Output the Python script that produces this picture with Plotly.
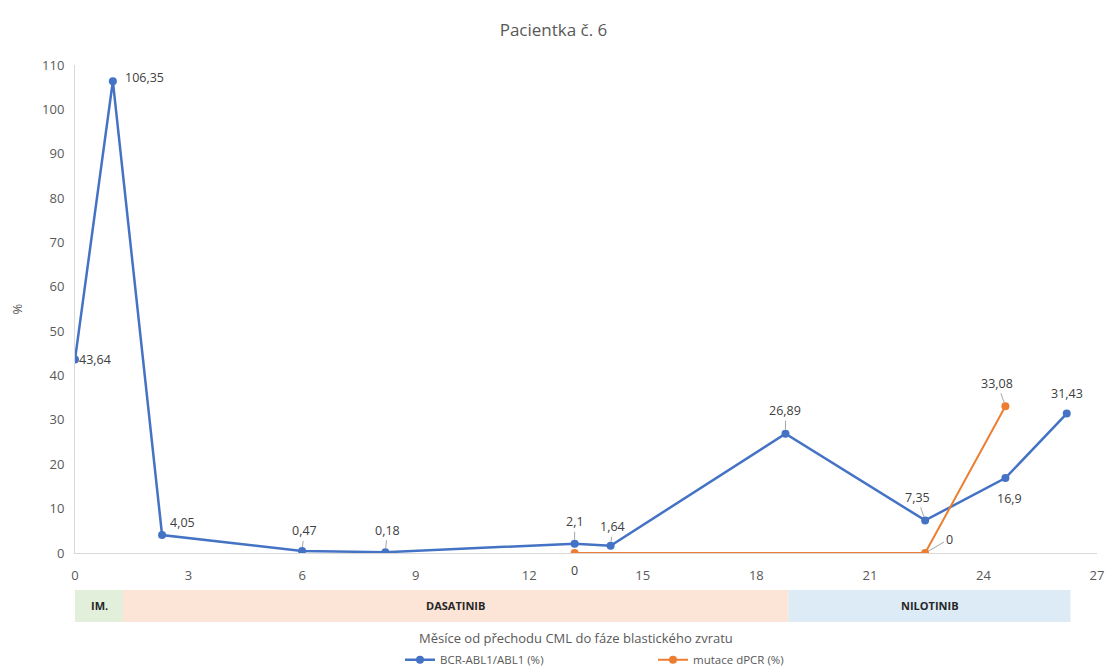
import plotly.graph_objects as go

# BCR-ABL1/ABL1 (%) over months since blast crisis
bcr_months = [0, 1.0, 2.3, 6.0, 8.2, 13.2, 14.15, 18.77, 22.46, 24.58, 26.2]
bcr_values = [43.64, 106.35, 4.05, 0.47, 0.18, 2.1, 1.64, 26.89, 7.35, 16.9, 31.43]
bcr_labels = ["43,64", "106,35", "4,05", "0,47", "0,18", "2,1", "1,64", "26,89", "7,35", "16,9", "31,43"]

# mutation dPCR (%)
mut_months = [13.2, 22.46, 24.58]
mut_values = [0, 0, 33.08]
mut_labels = ["0", "0", "33,08"]

# treatment phases (start, end, name)
phase_start = [0, 1.27, 18.85]
phase_end = [1.27, 18.85, 26.3]
phase_names = ["IM.", "DASATINIB", "NILOTINIB"]
phase_colors = ["#e2efda", "#fce4d6", "#ddebf7"]

x_ticks = list(range(0, 28, 3))
y_ticks = list(range(0, 111, 10))

BLUE = "#4472c4"
ORANGE = "#ed7d31"
TXT = "#595959"
FONT = "Open Sans, sans-serif"

fig = go.Figure()
fig.add_trace(go.Scatter(
    x=bcr_months, y=bcr_values, mode="lines+markers", name="BCR-ABL1/ABL1 (%)",
    line=dict(color=BLUE, width=2.5), marker=dict(color=BLUE, size=8),
))
fig.add_trace(go.Scatter(
    x=mut_months, y=mut_values, mode="lines+markers", name="mutace dPCR (%)",
    line=dict(color=ORANGE, width=2), marker=dict(color=ORANGE, size=8),
))

# data-label offsets in pixels (dx, dy, leader), positive dy = up
bcr_offsets = [(20, 0, False), (32, 4, False), (20, 13, False), (2, 20, True), (2, 22, True),
               (0, 22, True), (2, 19, True), (0, 23, True), (-8, 23, True), (4, -20, False), (0, 20, False)]
mut_offsets = [(0, -17, False), (24, 14, True), (-8, 23, True)]


def data_label(x, y, t, dx, dy, leader):
    font = dict(size=12.5, color="#404040", family=FONT)
    if leader:
        return dict(x=x, y=y, text=t, showarrow=True, ax=dx, ay=-dy, arrowhead=0,
                    arrowwidth=1, arrowcolor="#a6a6a6", standoff=4, font=font)
    return dict(x=x, y=y, text=t, showarrow=False, xshift=dx, yshift=dy, font=font)


annotations = []
for x, y, t, (dx, dy, ld) in zip(bcr_months, bcr_values, bcr_labels, bcr_offsets):
    annotations.append(data_label(x, y, t, dx, dy, ld))
for x, y, t, (dx, dy, ld) in zip(mut_months, mut_values, mut_labels, mut_offsets):
    annotations.append(data_label(x, y, t, dx, dy, ld))

shapes = []
for s, e, n, c in zip(phase_start, phase_end, phase_names, phase_colors):
    shapes.append(dict(type="rect", xref="x", yref="paper", x0=s - 0.06 if s == 0 else s, x1=e,
                       y0=-0.1414, y1=-0.0758, fillcolor=c, line=dict(width=0), layer="below"))
    annotations.append(dict(x=(s + e) / 2, xref="x", y=-0.108, yref="paper", yanchor="middle",
                            text="<b>%s</b>" % n, showarrow=False,
                            font=dict(size=11, color="#262626", family=FONT)))

annotations.append(dict(x=0.49, xref="paper", y=-0.174, yref="paper", yanchor="middle",
                        text="Měsíce od přechodu CML do fáze blastického zvratu",
                        showarrow=False, font=dict(size=13, color=TXT, family=FONT)))

fig.update_layout(
    width=1107, height=670,
    margin=dict(l=75, r=10, t=65, b=117, autoexpand=False),
    plot_bgcolor="white", paper_bgcolor="white",
    font=dict(family=FONT, color=TXT, size=12),
    title=dict(text="Pacientka č. 6", x=0.5, xanchor="center", y=0.955, yanchor="middle",
               font=dict(size=17, color=TXT, family=FONT)),
    xaxis=dict(range=[0, 27], tickvals=x_ticks, showgrid=False, zeroline=False,
               showline=True, linecolor="#d9d9d9", linewidth=1, ticks="",
               ticklabelstandoff=10, tickfont=dict(size=13, color=TXT)),
    yaxis=dict(range=[0, 110], tickvals=y_ticks, showgrid=False, zeroline=False,
               showline=True, linecolor="#d9d9d9", linewidth=1, ticks="", ticklen=0,
               ticklabelstandoff=7, tickfont=dict(size=13, color=TXT),
               title=dict(text="%", font=dict(size=13, color=TXT), standoff=16)),
    legend=dict(orientation="h", x=0.318, xanchor="left", y=-0.219, yanchor="middle",
                font=dict(size=11.5, color=TXT), entrywidth=208, itemwidth=30),
    shapes=shapes, annotations=annotations,
)

fig.write_html("out.html")
